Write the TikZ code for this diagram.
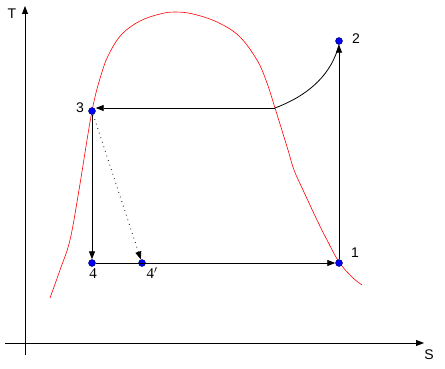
\RequirePackage{fix-cm}
\documentclass[tikz,border=0pt]{standalone}
\usepackage{fontspec}
\setsansfont{Liberation Sans}
\setmainfont{Liberation Serif}
\usetikzlibrary{arrows.meta}
\begin{document}
\begin{tikzpicture}[x=1pt,y=-1pt,
  arr/.style={-{Triangle[length=8pt,width=6pt]},line width=0.8pt},
  pt/.style={circle,fill=blue,draw=black!70!blue,line width=0.4pt,inner sep=0pt,minimum size=7pt},
  lbl/.style={font=\sffamily\fontsize{14}{16}\selectfont,inner sep=0pt},
  mlbl/.style={font=\rmfamily\fontsize{15}{17}\selectfont,inner sep=0pt}]
\useasboundingbox (0,0) rectangle (445,369);
% axes
\coordinate (yo) at (25,355);
\coordinate (yt) at (25,6);
\coordinate (xo) at (5,343);
\coordinate (xt) at (424,343);
\draw[arr] (yo) -- (yt);
\draw[arr] (xo) -- (xt);
\node[lbl] (T) at (12,14) {T};
\node[lbl] (S) at (429,355) {S};
% saturation dome
\draw[red,line width=0.6pt] plot[smooth,tension=0.6] coordinates {
 (50,298) (60,270) (70,240) (79,190) (92,111) (102,72) (110,52) (122,34) (140,21) (160,14) (175,12)
 (193,14) (217,22) (239,36) (257,60) (267,83) (275,108) (288,150) (294,170) (303,190) (317,220) (327,240) (339,262) (352,277) (362,285)};
% points
\node[pt] (p3) at (92,111) {};
\node[pt] (p4) at (92,263) {};
\node[pt] (p4p) at (142,263) {};
\node[pt] (p1) at (339,263) {};
\node[pt] (p2) at (339,41) {};
\node[lbl] (l3) at (80,108) {3};
\node[mlbl] (l4) at (93,274) {4};
\node[mlbl] (l4p) at (152,273) {4$'$};
\node[lbl] (l1) at (355,253) {1};
\node[lbl] (l2) at (356,39) {2};
% cycle
\coordinate (c) at (275,108);
\draw[arr] (c) -- (c -| p3.east);
\draw[line width=0.8pt] (c) .. controls (312,94) and (332,72) .. (p2.south);
\draw[arr] (p3) -- (p4);
\draw[arr,dash pattern=on 0.8pt off 4pt] (p3) -- (p4p);
\draw[arr] (p4) -- (p1);
\draw[arr] (p1) -- (p2);
\end{tikzpicture}
\end{document}
